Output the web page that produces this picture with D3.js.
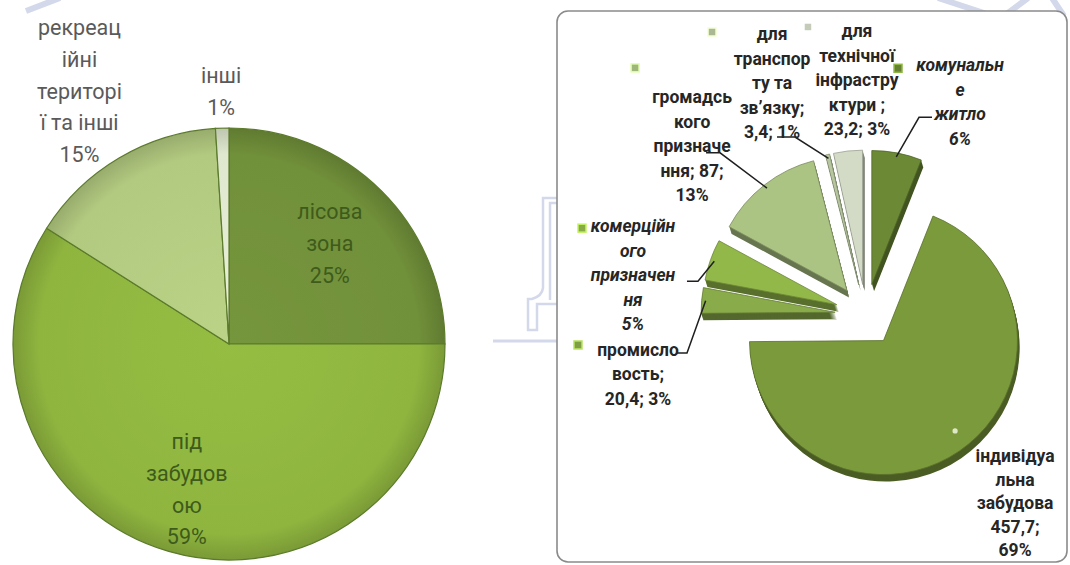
<!DOCTYPE html>
<html>
<head>
<meta charset="utf-8">
<script src="https://cdn.jsdelivr.net/npm/d3@7"></script>
<style>
  body { margin: 0; background: #fff; }
  svg { display: block; }
</style>
</head>
<body>
<svg id="chart"></svg>
<script>
// ---- ліва діаграма: баланс території, %
var zoneLabels = [["лісова", "зона"], ["під", "забудов", "ою"], ["рекреац", "ійні", "територі", "ї та інші"], ["інші"]];
var zoneShares = [25, 59, 15, 1];
var zoneColors = ["#71903a", "#8fb53f", "#b2ca80", "#dfe7cf"];

// ---- права діаграма: структура забудови, га
// {v} - значення, {p} - відсоток
var useLabels = [
  ["комунальн", "е", "житло", "{p}"],
  ["індивідуа", "льна", "забудова", "{v};", "{p}"],
  ["промисло", "вость;", "{v}; {p}"],
  ["комерційн", "ого", "призначен", "ня", "{p}"],
  ["громадсь", "кого", "призначе", "ння; {v};", "{p}"],
  ["для", "транспор", "ту та", "зв’язку;", "{v}; {p}"],
  ["для", "технічної", "інфрастру", "ктури ;", "{v}; {p}"]
];
var useValues = [40, 457.7, 20.4, 33, 87, 3.4, 23.2];
var useColors = ["#6c8a35", "#7b9a3c", "#8aab4a", "#93b84a", "#abc383", "#b7c69e", "#d3dbc7"];

var W = 1070, H = 565;
var svg = d3.select("#chart").attr("width", W).attr("height", H);
var defs = svg.append("defs");

// watermark remains from the source slide
var wm = svg.append("g").attr("fill", "none").attr("stroke", "#d3d9ea");
wm.append("path").attr("d", "M26,11 L60,-2").attr("stroke-width", 6);
wm.append("path").attr("d", "M938,-2 L993,16 M1004,16 L1028,-2 M1052,-2 L1064,16").attr("stroke-width", 6);
wm.append("path").attr("d", "M560,198 H543 V288 Q542,296 532,299 H528 V330 H537 V304 H560").attr("stroke-width", 2.5);
wm.append("path").attr("d", "M560,203 H550 V300").attr("stroke-width", 2.5);
wm.append("path").attr("d", "M493,341 H560").attr("stroke-width", 3);

// ================= LEFT PIE =================
var leftC = [229, 344], leftR = 216;
var leftLabelR = [0.66, 0.70, 1.36, 1.17];
var leftLH = 31.8;

var pieL = d3.pie().sort(null).value(function (d) { return d; })(zoneShares);
var arcL = d3.arc().innerRadius(0).outerRadius(leftR);

zoneColors.forEach(function (c, i) {
  var g = defs.append("radialGradient").attr("id", "lg" + i)
    .attr("gradientUnits", "userSpaceOnUse").attr("cx", 0).attr("cy", 0).attr("r", leftR);
  g.append("stop").attr("offset", "0%").attr("stop-color", d3.color(c).brighter(0.12));
  g.append("stop").attr("offset", "88%").attr("stop-color", c);
  g.append("stop").attr("offset", "100%").attr("stop-color", d3.color(c).darker(0.45));
});

var gL = svg.append("g").attr("transform", "translate(" + leftC + ")");
gL.selectAll("path.slice")
  .data(pieL)
  .join("path")
  .attr("class", "slice")
  .attr("d", arcL)
  .attr("fill", function (d, i) { return "url(#lg" + i + ")"; })
  .attr("stroke", "#5b7a2b")
  .attr("stroke-width", 1.2);

pieL.forEach(function (d, i) {
  var a = (d.startAngle + d.endAngle) / 2;
  var r = leftR * leftLabelR[i];
  var x = Math.sin(a) * r, y = -Math.cos(a) * r;
  var lines = zoneLabels[i].concat([zoneShares[i] + "%"]);
  var y0 = y - (lines.length - 1) / 2 * leftLH;
  var inside = leftLabelR[i] < 1;
  var t = gL.append("text")
    .attr("text-anchor", "middle")
    .attr("font-family", "Roboto, 'Open Sans', sans-serif")
    .attr("font-size", 21.5)
    .attr("fill", inside ? "#3e5b1b" : "#5a5a5a");
  lines.forEach(function (s, k) {
    t.append("tspan").attr("x", x).attr("y", y0 + k * leftLH).attr("dy", "0.35em").text(s);
  });
});

// ================= RIGHT PIE =================
svg.append("rect")
  .attr("x", 557).attr("y", 11).attr("width", 510).attr("height", 551)
  .attr("rx", 11).attr("fill", "#fff")
  .attr("stroke", "#8a8a8a").attr("stroke-width", 1.6);

var C = [866, 315], R = 134, explode = 31, depth = 7;
var total = d3.sum(useValues);
var pieR = d3.pie().sort(null).value(function (d) { return d; })(useValues);
var arcR = d3.arc().innerRadius(0).outerRadius(R);

function polar(a, r) { return [Math.sin(a) * r, -Math.cos(a) * r]; }
function mid(d) { return (d.startAngle + d.endAngle) / 2; }

var gR = svg.append("g").attr("transform", "translate(" + C + ")");

// extruded sides
var sides = gR.append("g");
d3.range(depth, 0, -1).forEach(function (k) {
  sides.selectAll(null)
    .data(pieR)
    .join("path")
    .attr("d", arcR)
    .attr("transform", function (d) {
      var o = polar(mid(d), explode);
      return "translate(" + (o[0] + k * 0.3) + "," + (o[1] + k) + ")";
    })
    .attr("fill", function (d, i) { return d3.color(useColors[i]).darker(1.4); });
});

// top faces
gR.append("g").selectAll("path")
  .data(pieR)
  .join("path")
  .attr("d", arcR)
  .attr("transform", function (d) { return "translate(" + polar(mid(d), explode) + ")"; })
  .attr("fill", function (d, i) { return useColors[i]; })
  .attr("stroke", function (d, i) { return d3.color(useColors[i]).darker(0.9); })
  .attr("stroke-width", 0.8);

// label layout: angle (deg, clockwise from top), radius, legend key offset, leader
var useLabelPos = [
  { a: 23.8, r: 233, italic: true, key: [-62, -33.5], lead: [[-41, 15.5], [-28, 15.5]] },
  { a: 141.6, r: 240, italic: false, key: null, lead: null, dot: true, lh: 23.5 },
  { a: 255.5, r: 235.5, italic: false, key: [-60, -29], lead: [[49, -21], [39, -21]] },
  { a: 279.7, r: 236.4, italic: true, key: [-51, -47], lead: [[65, 6], [54, 6]] },
  { a: 314.2, r: 242.6, italic: false, key: [-57, -78], lead: [[28, 7], [14, 7]] },
  { a: 337.95, r: 250.3, italic: false, key: [-60, -51], lead: [[23, 54], [5, 54]] },
  { a: 357.8, r: 235.2, italic: false, key: [-49, -53], lead: null }
];
var rightLH = 24.5;
var fmtV = function (v) { return String(v).replace(".", ","); };

var labels = gR.append("g");
pieR.forEach(function (d, i) {
  var L = useLabelPos[i];
  var lh = L.lh || rightLH;
  var c = polar(L.a * Math.PI / 180, L.r);
  var pct = Math.round(useValues[i] / total * 100) + "%";
  var lines = useLabels[i].map(function (s) {
    return s.replace("{v}", fmtV(useValues[i])).replace("{p}", pct);
  });
  var y0 = c[1] - (lines.length - 1) / 2 * lh;

  if (L.lead) {
    var o = polar(mid(d), explode);
    var s = polar(mid(d), R * 0.97);
    labels.append("polyline")
      .attr("points", [
        [o[0] + s[0], o[1] + s[1]],
        [c[0] + L.lead[0][0], c[1] + L.lead[0][1]],
        [c[0] + L.lead[1][0], c[1] + L.lead[1][1]]
      ].join(" "))
      .attr("fill", "none").attr("stroke", "#1f1f1f").attr("stroke-width", 1.5);
  }
  if (L.dot) {
    var o2 = polar(mid(d), explode);
    var s2 = polar(L.a * Math.PI / 180, R * 0.86);
    labels.append("circle").attr("cx", o2[0] + s2[0]).attr("cy", o2[1] + s2[1])
      .attr("r", 2.6).attr("fill", "#dfe8c6");
  }
  if (L.key) {
    labels.append("rect")
      .attr("x", c[0] + L.key[0] - 4).attr("y", c[1] + L.key[1] - 4)
      .attr("width", 8).attr("height", 8)
      .attr("fill", d3.color(useColors[i]).darker(0.2))
      .attr("stroke", d3.color(useColors[i]).brighter(0.8)).attr("stroke-width", 1.5);
  }

  var t = labels.append("text")
    .attr("text-anchor", "middle")
    .attr("font-family", "Roboto, 'Open Sans', sans-serif")
    .attr("font-weight", "bold")
    .attr("font-style", L.italic ? "italic" : "normal")
    .attr("font-size", 17.5)
    .attr("fill", "#262626");
  lines.forEach(function (s, k) {
    t.append("tspan").attr("x", c[0]).attr("y", y0 + k * lh).attr("dy", "0.35em").text(s);
  });
});
</script>
</body>
</html>
